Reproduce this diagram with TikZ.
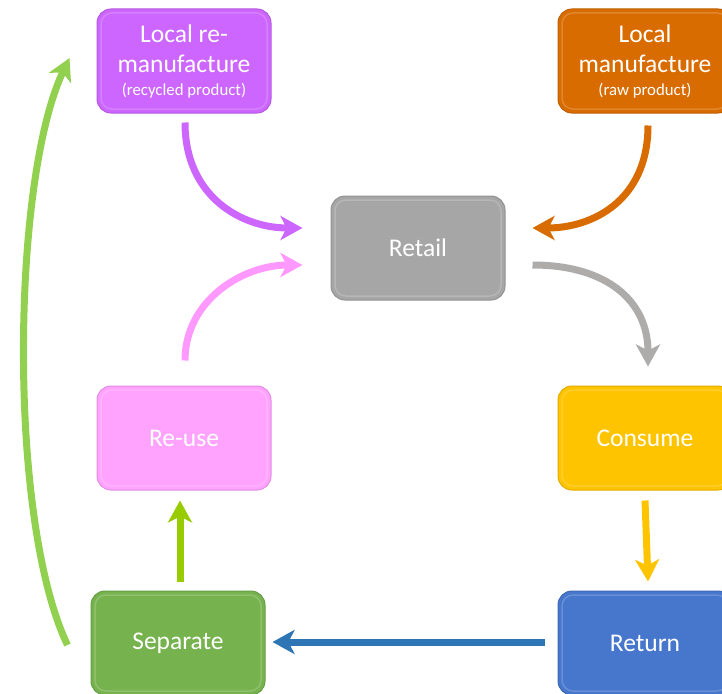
\documentclass[tikz,border=0pt]{standalone}
\usepackage{tikz}
\usetikzlibrary{arrows.meta,calc}
\usepackage{fontspec}
\setmainfont{Carlito}

\definecolor{remfgpurple}{HTML}{CC66FF}
\definecolor{mfgorange}{HTML}{D86C00}
\definecolor{retailgray}{HTML}{A6A6A6}
\definecolor{reusepink}{HTML}{FFA3FF}
\definecolor{consumeyellow}{HTML}{FFC400}
\definecolor{separategreen}{HTML}{76B34E}
\definecolor{returnblue}{HTML}{4777CC}
\definecolor{arrowpink}{HTML}{FF99FF}
\definecolor{arrowgray}{HTML}{AEABAB}
\definecolor{arrowblue}{HTML}{2E75B6}
\definecolor{arrowlime}{HTML}{99CC00}
\definecolor{arrowgreen}{HTML}{92D050}

\begin{document}
\begin{tikzpicture}[x=1pt, y=-1pt, >={Stealth[length=22pt,width=24pt,inset=6pt]},
	stagebox/.style={draw=#1!88!black, line width=1pt, fill=#1, rounded corners=14pt,
		minimum width=174pt, minimum height=104pt, inner sep=0pt, align=center,
		text=white, font=\fontsize{25.5}{31}\selectfont,
		path picture={\draw[#1!55!white, line width=1.5pt, rounded corners=11pt, opacity=0.4]
			([shift={(4pt,-4pt)}]path picture bounding box.north west) rectangle
			([shift={(-4pt,4pt)}]path picture bounding box.south east);}},
	flow/.style={->, line width=7pt, draw=#1}]
	% Page size of the reference, boxes on the right run off the edge
	\useasboundingbox (0,0) rectangle (722,693);
	\clip (0,0) rectangle (722,693);

	% Macro for the small second caption in a box.
	% Usage: \subnote{text}
	\newcommand{\subnote}[1]{{\fontsize{16.8}{20}\selectfont #1}}

	% The stages
	\node[stagebox=remfgpurple] (remfg) at (184,61) {Local re-\\manufacture\\[-9pt]\subnote{(recycled product)}};
	\node[stagebox=mfgorange] (mfg) at (645,61) {Local\\manufacture\\[-9pt]\subnote{(raw product)}};
	\node[stagebox=retailgray] (retail) at (418,248) {Retail};
	\node[stagebox=reusepink] (reuse) at (184,438) {Re-use};
	\node[stagebox=consumeyellow] (consume) at (645,438) {Consume};
	\node[stagebox=separategreen] (sep) at (178,643) {Separate};
	\node[stagebox=returnblue] (ret) at (645,643) {Return};

	% Curved arrows into and out of retail
	\draw[flow=remfgpurple] ($(remfg.south)+(1,9)$) .. controls +(0,75) and +(-60,0) .. ($(retail.west)+(-28,-20)$);
	\draw[flow=arrowpink] ($(reuse.north)+(1,-25)$) .. controls +(0,-60) and +(-60,0) .. ($(retail.west)+(-28,17)$);
	\draw[flow=mfgorange] ($(mfg.south)+(3,12)$) .. controls +(0,75) and +(60,0) .. ($(retail.east)+(27,-20)$);
	\draw[flow=arrowgray] ($(retail.east)+(27,17)$) .. controls +(75,0) and +(0,-65) .. ($(consume.north)+(3,-19)$);

	% Straight arrows round the bottom
	\draw[flow=consumeyellow] ($(consume.south)+(0,10)$) -- ($(ret.north)+(3,-9)$);
	\draw[flow=arrowblue] ($(ret.west)+(-13,-1)$) -- ($(sep.east)+(7,-1)$);
	\draw[flow=arrowlime] ($(sep.north)+(2,-9)$) -- ($(reuse.south)+(-4,10)$);

	% Long way back up to re-manufacture
	\draw[flow=arrowgreen] ($(sep.west)+(-23,2)$) .. controls +(-60,-125) and +(-58,122) .. ($(remfg.west)+(-27,-3)$);
\end{tikzpicture}
\end{document}
